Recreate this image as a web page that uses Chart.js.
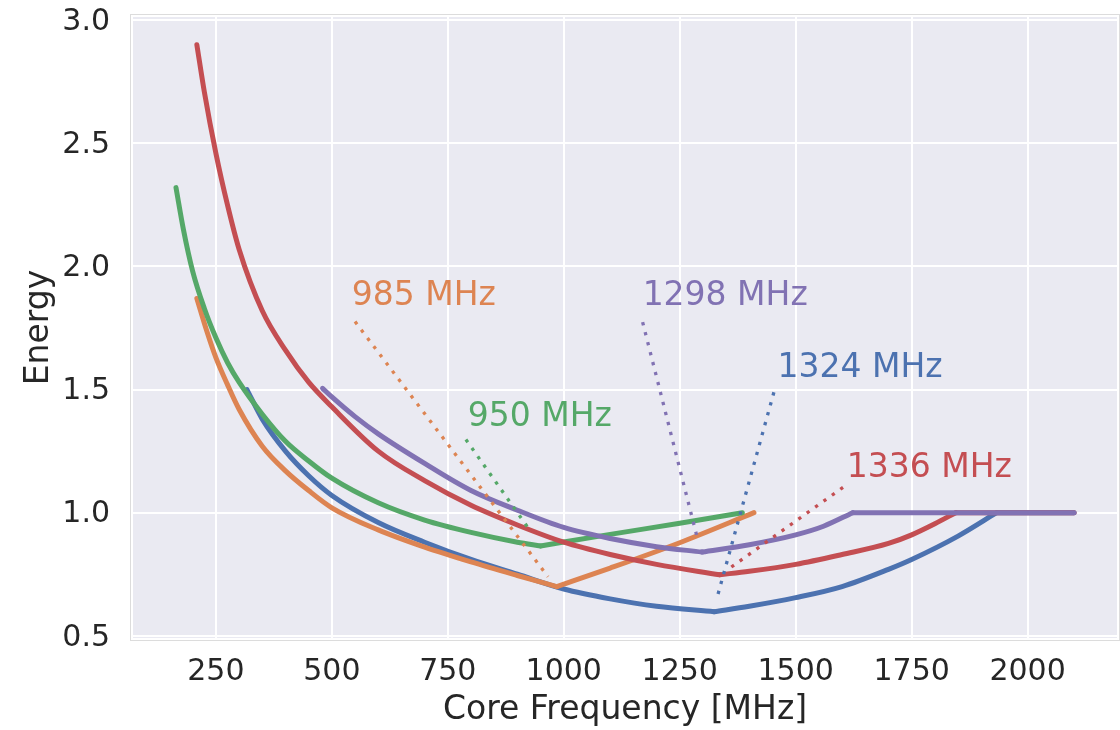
<!DOCTYPE html>
<html>
<head>
<meta charset="utf-8">
<script src="https://cdn.jsdelivr.net/npm/chart.js@4.4.1/dist/chart.umd.min.js"></script>
<style>
html,body{margin:0;padding:0;background:#ffffff;}
#wrap{width:1120px;height:730px;}
</style>
</head>
<body>
<div id="wrap"><canvas id="c" width="1120" height="730"></canvas></div>
<script>
// ---- axis ticks ----
const xTicks = [250, 500, 750, 1000, 1250, 1500, 1750, 2000];
const yTicks = [0.5, 1.0, 1.5, 2.0, 2.5, 3.0];

// ---- series (core frequency in MHz, energy) ----
const blueF = [317, 350, 400, 450, 500, 600, 700, 800, 900, 1000, 1100, 1200, 1324, 1400, 1500, 1600, 1700, 1750, 1850, 1933, 2100];
const blueE = [1.50, 1.38, 1.25, 1.15, 1.07, 0.96, 0.88, 0.81, 0.75, 0.69, 0.65, 0.62, 0.598, 0.62, 0.655, 0.70, 0.77, 0.81, 0.905, 1.0, 1.0];

const orangeF = [209, 230, 250, 275, 300, 350, 400, 450, 500, 600, 700, 800, 900, 985, 1100, 1250, 1410];
const orangeE = [1.87, 1.74, 1.63, 1.52, 1.42, 1.27, 1.17, 1.09, 1.02, 0.93, 0.86, 0.80, 0.745, 0.70, 0.775, 0.878, 1.0];

const greenF = [164, 180, 200, 225, 250, 275, 300, 350, 400, 450, 500, 600, 700, 800, 900, 950, 1100, 1250, 1385];
const greenE = [2.32, 2.15, 1.98, 1.83, 1.71, 1.61, 1.53, 1.40, 1.29, 1.21, 1.14, 1.04, 0.97, 0.92, 0.88, 0.865, 0.912, 0.957, 1.0];

const redF = [209, 225, 250, 275, 300, 350, 400, 450, 500, 600, 700, 800, 900, 1000, 1100, 1200, 1336, 1400, 1500, 1600, 1700, 1750, 1800, 1845, 2100];
const redE = [2.90, 2.71, 2.46, 2.25, 2.07, 1.82, 1.66, 1.53, 1.43, 1.25, 1.13, 1.03, 0.95, 0.88, 0.83, 0.79, 0.748, 0.762, 0.79, 0.83, 0.875, 0.91, 0.955, 1.0, 1.0];

const purpleF = [480, 500, 550, 600, 700, 800, 900, 1000, 1100, 1200, 1298, 1400, 1500, 1560, 1623, 2100];
const purpleE = [1.505, 1.47, 1.39, 1.32, 1.20, 1.09, 1.01, 0.94, 0.895, 0.862, 0.84, 0.87, 0.91, 0.945, 1.0, 1.0];

// ---- annotations (optimal frequencies) ----
const annoText   = ['985 MHz', '950 MHz', '1298 MHz', '1324 MHz', '1336 MHz'];
const annoSeries = ['orange', 'green', 'purple', 'blue', 'red'];
const annoTextF  = [543, 793, 1170, 1461, 1610];
const annoTextE  = [1.845, 1.350, 1.845, 1.549, 1.146];
const annoFromF  = [550, 789, 1170, 1453, 1602];
const annoFromE  = [1.776, 1.297, 1.774, 1.489, 1.103];
const annoToF    = [966, 921, 1289, 1329, 1358];
const annoToE    = [0.740, 0.944, 0.889, 0.645, 0.775];

const COLORS = {blue:'#4C72B0', orange:'#DD8452', green:'#55A868', red:'#C44E52', purple:'#8172B3'};
const FONT = "'DejaVu Sans', 'Liberation Sans', sans-serif";
Chart.defaults.font.family = FONT;
Chart.defaults.color = '#262626';

const pts = (F, E, a, b) => F.slice(a, b + 1).map((f, i) => ({x: f, y: E[a + i]}));

const seriesList = [
  {key:'blue',   F: blueF,   E: blueE,   order: 5},
  {key:'orange', F: orangeF, E: orangeE, order: 4},
  {key:'green',  F: greenF,  E: greenE,  order: 3},
  {key:'red',    F: redF,    E: redE,    order: 2},
  {key:'purple', F: purpleF, E: purpleE, order: 1}
];

// split each curve at its kinks (minimum, and where it reaches the 1.0 cap)
const datasets = [];
seriesList.forEach(s => {
  const n = s.F.length;
  let iMin = 0;
  s.E.forEach((e, i) => { if (e < s.E[iMin]) iMin = i; });
  const cuts = [0, iMin];
  for (let i = iMin + 1; i < n - 1; i++) {
    if (s.E[i] >= 1.0) { cuts.push(i); break; }
  }
  cuts.push(n - 1);
  for (let k = 0; k < cuts.length - 1; k++) {
    if (cuts[k + 1] <= cuts[k]) continue;
    datasets.push({
      label: s.key + '-' + k,
      data: pts(s.F, s.E, cuts[k], cuts[k + 1]),
      borderColor: COLORS[s.key],
      borderWidth: 5,
      borderCapStyle: 'round',
      borderJoinStyle: 'round',
      pointRadius: 0,
      fill: false,
      cubicInterpolationMode: 'monotone',
      order: s.order
    });
  }
});

annoText.forEach((t, i) => {
  datasets.push({
    label: 'anno ' + t,
    data: [{x: annoFromF[i], y: annoFromE[i]}, {x: annoToF[i], y: annoToE[i]}],
    borderColor: COLORS[annoSeries[i]],
    borderWidth: 3.3,
    borderDash: [3.3, 7],
    borderCapStyle: 'butt',
    pointRadius: 0,
    fill: false,
    tension: 0,
    order: 0
  });
});

const bgPlugin = {
  id: 'bgPlugin',
  beforeDraw(chart) {
    const {ctx, chartArea: a} = chart;
    ctx.save();
    ctx.fillStyle = '#EAEAF2';
    ctx.fillRect(a.left, a.top, a.right - a.left, a.bottom - a.top);
    ctx.strokeStyle = '#FFFFFF';
    ctx.lineWidth = 2;
    ctx.strokeRect(a.left + 1, a.top + 1, a.right - a.left - 2, a.bottom - a.top - 2);
    ctx.strokeStyle = '#DCDCDC';
    ctx.lineWidth = 1;
    ctx.strokeRect(a.left - 0.5, a.top - 0.5, a.right - a.left + 1, a.bottom - a.top + 1);
    ctx.restore();
  }
};

const textPlugin = {
  id: 'textPlugin',
  afterDatasetsDraw(chart) {
    const {ctx, scales: {x, y}} = chart;
    ctx.save();
    ctx.font = '33px ' + FONT;
    ctx.textAlign = 'left';
    ctx.textBaseline = 'alphabetic';
    annoText.forEach((t, i) => {
      ctx.fillStyle = COLORS[annoSeries[i]];
      ctx.fillText(t, x.getPixelForValue(annoTextF[i]), y.getPixelForValue(annoTextE[i]));
    });
    ctx.restore();
  }
};

new Chart(document.getElementById('c'), {
  type: 'line',
  data: {datasets},
  plugins: [bgPlugin, textPlugin],
  options: {
    responsive: false,
    devicePixelRatio: 1,
    animation: false,
    events: [],
    layout: {padding: {top: 15, right: 1, bottom: 0, left: 0}},
    plugins: {legend: {display: false}, tooltip: {enabled: false}},
    scales: {
      x: {
        type: 'linear',
        min: 67,
        max: 2197,
        afterBuildTicks: s => { s.ticks = xTicks.map(v => ({value: v})); },
        afterFit: s => { s.height = 90; s.paddingLeft = 0; s.paddingRight = 0; },
        grid: {color: '#FFFFFF', lineWidth: 2, drawTicks: false},
        border: {display: false},
        ticks: {
          padding: 14, color: '#262626', font: {size: 30},
          autoSkip: false, maxRotation: 0,
          callback: v => String(v)
        },
        title: {
          display: true, text: 'Core Frequency [MHz]', color: '#262626',
          font: {size: 33}, padding: {top: 0, bottom: 0}
        }
      },
      y: {
        type: 'linear',
        min: 0.483,
        max: 3.021,
        afterBuildTicks: s => { s.ticks = yTicks.map(v => ({value: v})); },
        afterFit: s => { s.width = 131; s.paddingTop = 0; s.paddingBottom = 0; },
        grid: {color: '#FFFFFF', lineWidth: 2, drawTicks: false},
        border: {display: false},
        ticks: {
          padding: 21, color: '#262626', font: {size: 30}, labelOffset: 2,
          callback: v => Number(v).toFixed(1)
        },
        title: {
          display: true, text: 'Energy', color: '#262626',
          font: {size: 33}, padding: {top: 20, bottom: 0}
        }
      }
    }
  }
});
</script>
</body>
</html>
